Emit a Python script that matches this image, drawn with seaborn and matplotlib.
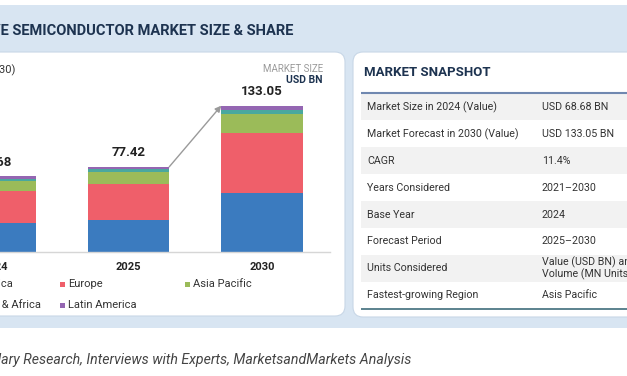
import numpy as np
import pandas as pd
import matplotlib
matplotlib.use("Agg")
import matplotlib.pyplot as plt
import seaborn as sns
from matplotlib.patches import FancyBboxPatch, Rectangle

# ---------------- data ----------------
years = ["2024", "2025", "2030"]
totals = [68.68, 77.42, 133.05]
regions = ["North America", "Europe", "Asia Pacific", "Middle East & Africa", "Latin America"]
north_america = [26.51, 29.40, 53.22]
europe = [28.78, 32.40, 55.08]
asia_pacific = [9.07, 10.60, 17.43]
middle_east_africa = [1.72, 2.70, 3.06]
latin_america = [2.60, 2.32, 4.26]
region_colors = ["#3b7bbf", "#ef5f6a", "#9bbb59", "#4aa89e", "#9466b2"]

snapshot_labels = ["Market Size in 2024 (Value)", "Market Forecast in 2030 (Value)", "CAGR",
                   "Years Considered", "Base Year", "Forecast Period", "Units Considered",
                   "Fastest-growing Region"]
snapshot_values = ["USD 68.68 BN", "USD 133.05 BN", "11.4%", "2021\u20132030", "2024",
                   "2025\u20132030", "Value (USD BN) and\nVolume (MN Units)", "Asis Pacific"]

title = "AUTOMOTIVE SEMICONDUCTOR MARKET SIZE & SHARE"
subtitle = "AUTOMOTIVE SEMICONDUCTOR MARKET, BY REGION (2024\u20132030)"
source = "Source: Secondary Research, Interviews with Experts, MarketsandMarkets Analysis"

# ---------------- style ----------------
sns.set_theme(style="white")
plt.rcParams["font.family"] = ["Roboto", "DejaVu Sans"]

W, H = 627, 376
fig = plt.figure(figsize=(W / 100, H / 100), dpi=100)
fig.patch.set_facecolor("white")

# background canvas in pixel coordinates
bg = fig.add_axes([0, 0, 1, 1], zorder=0)
bg.set_xlim(0, W)
bg.set_ylim(H, 0)
bg.axis("off")

light_blue = "#d8e5f2"
bg.add_patch(Rectangle((-20, 5), W + 40, 323, facecolor=light_blue, edgecolor="none"))
bg.add_patch(FancyBboxPatch((-30, 52), 375, 264, boxstyle="round,pad=0,rounding_size=10",
                            facecolor="white", edgecolor="#c8d7e7", lw=0.8))
bg.add_patch(FancyBboxPatch((353, 52), 300, 265, boxstyle="round,pad=0,rounding_size=10",
                            facecolor="white", edgecolor="#c8d7e7", lw=0.8))

navy = "#1d3350"
bg.text(293, 31, title, ha="right", va="center", fontsize=10.5, fontweight="bold", color=navy)
bg.text(15, 70, subtitle, ha="right", va="center", fontsize=8, color="#333333")
bg.text(323, 69, "MARKET SIZE", ha="right", va="center", fontsize=7, color="#9a9a9a")
bg.text(323, 80, "USD BN", ha="right", va="center", fontsize=7.5, fontweight="bold", color=navy)

# legend (manual, laid out as in the reference)
legend_pos = {"North America": (-67, 284), "Europe": (60, 284), "Asia Pacific": (185, 284),
              "Middle East & Africa": (-67, 305), "Latin America": (60, 305)}
for name, col in zip(regions, region_colors):
    lx, ly = legend_pos[name]
    bg.add_patch(Rectangle((lx, ly - 2.5), 5, 5, facecolor=col, edgecolor="none"))
    bg.text(lx + 8, ly, name, ha="left", va="center", fontsize=8, color="#333333")

# snapshot table
bg.text(364, 72, "MARKET SNAPSHOT", ha="left", va="center", fontsize=9.5,
        fontweight="bold", color=navy)
row_top, row_h = 93.5, 26.9
for i, (lab, val) in enumerate(zip(snapshot_labels, snapshot_values)):
    y0 = row_top + i * row_h
    if i % 2 == 0:
        bg.add_patch(Rectangle((361, y0), 280, row_h, facecolor="#f2f2f2", edgecolor="none"))
    yc = y0 + row_h / 2
    bg.text(367, yc, lab, ha="left", va="center", fontsize=7.7, color="#333333")
    bg.text(542, yc, val, ha="left", va="center", fontsize=7.7, color="#333333", linespacing=1.05)
bg.plot([361, 640], [92.5, 92.5], color="#7088b0", lw=1.5, solid_capstyle="butt")
bg.plot([361, 640], [308.5, 308.5], color="#3f6d7b", lw=1.2, solid_capstyle="butt")

bg.text(411, 360, source, ha="right", va="center", fontsize=10.2, style="italic", color="#444444")

# ---------------- chart ----------------
px_left, px_right = -80, 330
c0, step = -5, 133.5
base_px, top_px = 252, 60
scale = 1.1  # px per USD BN
ax = fig.add_axes([px_left / W, (H - base_px) / H, (px_right - px_left) / W,
                   (base_px - top_px) / H], zorder=1)
ax.patch.set_alpha(0)

series = [north_america, europe, asia_pacific, middle_east_africa, latin_america]
cum = np.cumsum(np.array(series), axis=0)
df = pd.DataFrame({"year": years})
for k in range(len(series) - 1, -1, -1):
    df["cum"] = cum[k]
    sns.barplot(data=df, x="year", y="cum", color=region_colors[k], saturation=1,
                width=0.61, linewidth=0, ax=ax, order=years)

for i, t in enumerate(totals):
    ax.annotate(f"{t:.2f}", (i, t), xytext=(0, 10), textcoords="offset points",
                ha="center", va="center", fontsize=9.5, fontweight="bold", color="#222222")

ax.annotate("", xy=(2 - 0.305, totals[2]), xytext=(1 + 0.305, totals[1]),
            arrowprops=dict(arrowstyle="-|>", color="#9a9a9a", lw=1.0, mutation_scale=9,
                            shrinkA=0, shrinkB=0))

ax.set_xlim((px_left - c0) / step, (px_right - c0) / step)
ax.set_ylim(0, (base_px - top_px) / scale)
ax.set_xlabel("")
ax.set_ylabel("")
ax.set_yticks([])
for s in ["top", "right", "left"]:
    ax.spines[s].set_visible(False)
ax.spines["bottom"].set_color("#d6d6d6")
ax.spines["bottom"].set_linewidth(1.0)
ax.tick_params(axis="x", length=0, pad=7, labelsize=8, labelcolor="#222222")
for lbl in ax.get_xticklabels():
    lbl.set_fontweight("bold")

fig.savefig("out.png", dpi=100, facecolor="white")
